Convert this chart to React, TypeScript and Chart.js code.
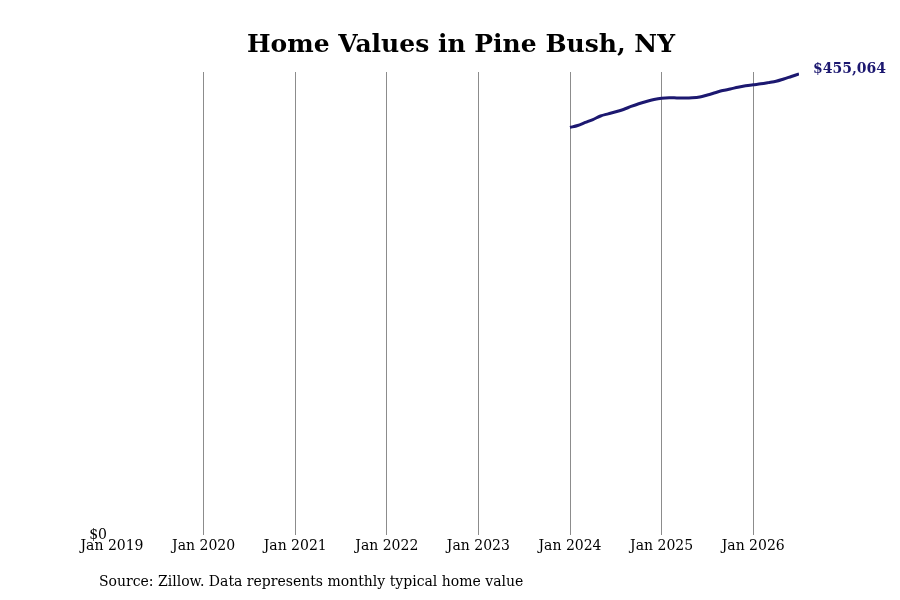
import { useEffect, useRef } from 'react';
import Chart from 'chart.js/auto';

const TITLE = 'Home Values in Pine Bush, NY';
const SOURCE = 'Source: Zillow. Data represents monthly typical home value';

// x axis runs in months counted from Jan 2019
const tickLabels = ['Jan 2019', 'Jan 2020', 'Jan 2021', 'Jan 2022', 'Jan 2023', 'Jan 2024', 'Jan 2025', 'Jan 2026'];

const months = [
  '2024-01', '2024-02', '2024-03', '2024-04', '2024-05', '2024-06',
  '2024-07', '2024-08', '2024-09', '2024-10', '2024-11', '2024-12',
  '2025-01', '2025-02', '2025-03', '2025-04', '2025-05', '2025-06',
  '2025-07', '2025-08', '2025-09', '2025-10', '2025-11', '2025-12',
  '2026-01', '2026-02', '2026-03', '2026-04', '2026-05', '2026-06',
  '2026-07',
];

const homeValues = [
  402200, 404200, 407200, 410100, 413600, 415700,
  417700, 420000, 423000, 425700, 427900, 429800,
  431100, 431600, 431400, 431300, 431500, 432300,
  434300, 436500, 438700, 440200, 442000, 443400,
  444400, 445300, 446500, 447800, 450100, 452600,
  455064,
];

const monthIndex = (m: string) => {
  const [y, mo] = m.split('-').map(Number);
  return (y - 2019) * 12 + (mo - 1);
};

const fmt = (v: number) => '$' + v.toLocaleString('en-US');

const LINE = '#1c1870';

const App = () => {
  const chartRef = useRef<HTMLCanvasElement>(null);
  const chartInstanceRef = useRef<Chart | null>(null);

  useEffect(() => {
    document.body.style.margin = '0';
    const ctx = chartRef.current!.getContext('2d')!;

    if (chartInstanceRef.current) {
      chartInstanceRef.current.destroy();
    }

    const textPlugin = {
      id: 'textPlugin',
      afterDraw: (chart: any) => {
        const c = chart.ctx;
        c.save();
        c.fillStyle = '#000';
        c.font = 'bold 25px "DejaVu Serif", serif';
        c.textAlign = 'center';
        c.textBaseline = 'middle';
        c.fillText(TITLE, 461, 45);

        c.font = '14px "DejaVu Serif", serif';
        c.textAlign = 'left';
        c.fillText(SOURCE, 99, 582);
        c.restore();
      },
      afterDatasetsDraw: (chart: any) => {
        const meta = chart.getDatasetMeta(0);
        const last = meta.data[meta.data.length - 1];
        const c = chart.ctx;
        c.save();
        c.fillStyle = LINE;
        c.font = 'bold 14px "DejaVu Serif", serif';
        c.textAlign = 'left';
        c.textBaseline = 'middle';
        c.fillText(fmt(homeValues[homeValues.length - 1]), last.x + 14, last.y - 5);
        c.restore();
      },
    };

    chartInstanceRef.current = new Chart(ctx, {
      type: 'line',
      data: {
        datasets: [
          {
            data: months.map((m, i) => ({ x: monthIndex(m), y: homeValues[i] })),
            borderColor: LINE,
            borderWidth: 3,
            pointRadius: 0,
            tension: 0.3,
            fill: false,
          },
        ],
      },
      options: {
        animation: false,
        responsive: false,
        maintainAspectRatio: false,
        layout: { padding: { top: 72, right: 101, left: 82, bottom: 0 } },
        plugins: {
          legend: { display: false },
          title: { display: false },
          tooltip: { enabled: false },
        },
        scales: {
          x: {
            type: 'linear',
            min: 0,
            max: 90,
            afterFit: (scale: any) => { scale.height = 65; },
            afterBuildTicks: (scale: any) => {
              scale.ticks = tickLabels.map((_, i) => ({ value: i * 12 }));
            },
            ticks: {
              padding: 3,
              color: '#000',
              font: { family: '"DejaVu Serif", serif', size: 14 },
              callback: (v: any) => tickLabels[Math.round(Number(v) / 12)] ?? '',
              maxRotation: 0,
              autoSkip: false,
            },
            grid: {
              drawTicks: false,
              color: (c: any) => (c.tick && c.tick.value === 0 ? 'rgba(0,0,0,0)' : '#8c8c8c'),
              lineWidth: 1,
            },
            border: { display: false },
          },
          y: {
            min: 0,
            max: 457000,
            afterFit: (scale: any) => { scale.width = 30; },
            afterBuildTicks: (scale: any) => { scale.ticks = [{ value: 0 }]; },
            ticks: {
              padding: -3,
              color: '#000',
              font: { family: '"DejaVu Serif", serif', size: 14 },
              callback: (v: any) => fmt(Number(v)),
            },
            grid: { display: false },
            border: { display: false },
          },
        },
      },
      plugins: [textPlugin],
    });

    return () => {
      if (chartInstanceRef.current) {
        chartInstanceRef.current.destroy();
        chartInstanceRef.current = null;
      }
    };
  }, []);

  return (
    <div style={{ width: 900, height: 600, background: '#fff' }}>
      <canvas ref={chartRef} width={900} height={600} style={{ width: 900, height: 600 }}></canvas>
    </div>
  );
};

export default App;
